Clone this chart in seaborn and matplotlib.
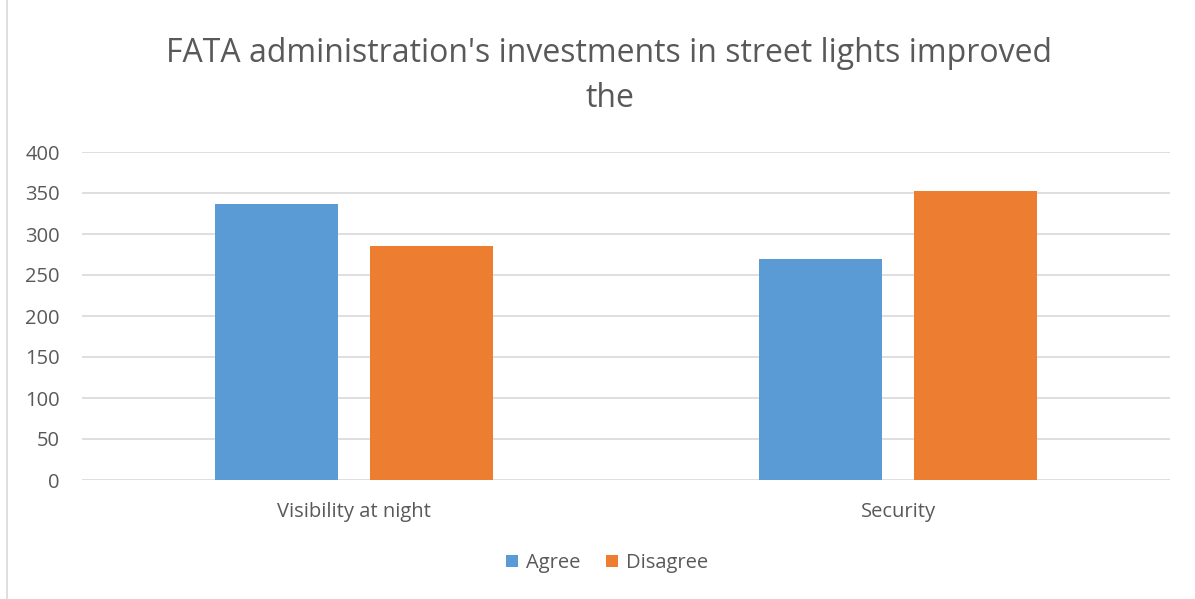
import matplotlib
matplotlib.use("Agg")
import matplotlib.pyplot as plt
import seaborn as sns
import pandas as pd
from matplotlib.patches import Patch
from matplotlib.lines import Line2D

categories = ["Visibility at night", "Security"]
agree = [336, 269]
disagree = [285, 352]
series_names = ["Agree", "Disagree"]
y_ticks = [0, 50, 100, 150, 200, 250, 300, 350, 400]
title = "FATA administration's investments in street lights improved\nthe"

colors = ["#5B9BD5", "#ED7D31"]
text_color = "#595959"

df = pd.DataFrame({
    "category": categories * 2,
    "series": [series_names[0]] * 2 + [series_names[1]] * 2,
    "value": agree + disagree,
})

sns.set_theme(style="white")
plt.rcParams["font.family"] = ["Open Sans", "DejaVu Sans"]

fig = plt.figure(figsize=(11.95, 5.99), dpi=100)
ax = fig.add_axes([82 / 1195, 1 - 480 / 599, 1088 / 1195, 328 / 599])

sns.barplot(data=df, x="category", y="value", hue="series", order=categories,
            hue_order=series_names, palette=colors, width=0.568, gap=0.207,
            saturation=1, linewidth=0, ax=ax, legend=False)

ax.set_xlim(-0.5, 1.5)
ax.set_ylim(0, 400)
ax.set_yticks(y_ticks)
ax.set_yticklabels([str(t) for t in y_ticks])
ax.yaxis.grid(True, color="#D9D9D9", linewidth=1.2)
ax.set_axisbelow(True)
for s in ax.spines.values():
    s.set_visible(False)
ax.set_xlabel("")
ax.set_ylabel("")
ax.tick_params(axis="both", length=0, labelsize=14.5, labelcolor=text_color)
ax.tick_params(axis="y", pad=16)
ax.tick_params(axis="x", pad=16)

fig.text(0.51, 1 - 76 / 599, title, ha="center", va="center", fontsize=23,
         color=text_color, linespacing=1.5)

handles = [Patch(facecolor=c, edgecolor="none") for c in colors]
fig.legend(handles, series_names, loc="center", bbox_to_anchor=(0.508, 1 - 563 / 599),
           ncol=2, frameon=False, fontsize=14.5, handlelength=0.6, handleheight=0.6,
           handletextpad=0.4, columnspacing=1.3, labelcolor=text_color)

fig.add_artist(Line2D([7 / 1195, 7 / 1195], [0, 1], color="#D9D9D9", linewidth=1.2,
                      transform=fig.transFigure))

fig.savefig("out.png", dpi=100)
